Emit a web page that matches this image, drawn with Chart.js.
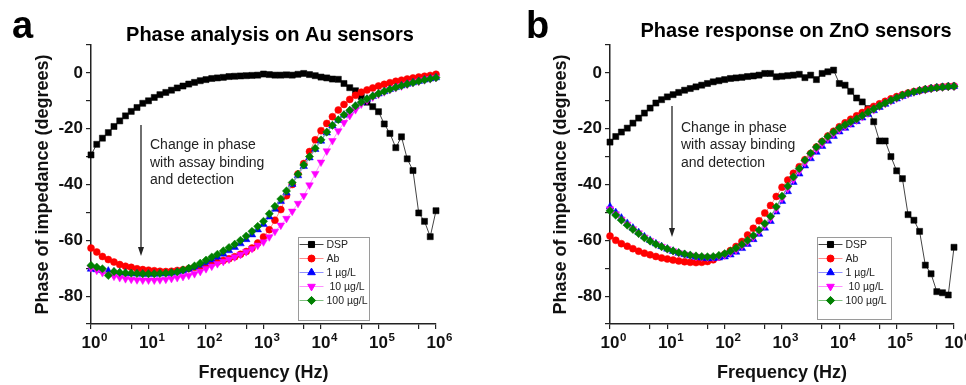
<!DOCTYPE html>
<html>
<head>
<meta charset="utf-8">
<script src="https://cdn.jsdelivr.net/npm/chart.js@4.4.1/dist/chart.umd.min.js"></script>
<style>
  body { margin: 0; background: #fff; }
  .panel { position: absolute; top: 0; width: 483px; height: 385px; }
  #panelA { left: 0; }
  #panelB { left: 483px; }
</style>
</head>
<body>
<div class="panel" id="panelA"><canvas id="chartA" width="483" height="385"></canvas></div>
<div class="panel" id="panelB"><canvas id="chartB" width="483" height="385"></canvas></div>
<script>
// === DATA ===
const FREQ = [1, 1.26, 1.58, 2, 2.51, 3.16, 3.98, 5.01, 6.31, 7.94,
  10, 12.6, 15.8, 20, 25.1, 31.6, 39.8, 50.1, 63.1, 79.4,
  100, 126, 158, 200, 251, 316, 398, 501, 631, 794,
  1e3, 1.26e3, 1.58e3, 2e3, 2.51e3, 3.16e3, 3.98e3, 5.01e3, 6.31e3, 7.94e3,
  1e4, 1.26e4, 1.58e4, 2e4, 2.51e4, 3.16e4, 3.98e4, 5.01e4, 6.31e4, 7.94e4,
  1e5, 1.26e5, 1.58e5, 2e5, 2.51e5, 3.16e5, 3.98e5, 5.01e5, 6.31e5, 7.94e5,
  1e6];

const SERIES = ['DSP', 'Ab', '1 µg/L', ' 10 µg/L', '100 µg/L'];

// Au sensors (panel a)
const AU_DSP = [-29.4, -25.6, -23.4, -21.4, -19.2, -17.2, -15.4, -13.8, -12.4, -10.9,
  -10.0, -8.8, -7.8, -7.0, -6.2, -5.4, -4.7, -4.0, -3.4, -2.8,
  -2.4, -2.0, -1.8, -1.6, -1.3, -1.2, -1.1, -1.0, -0.9, -0.8,
  -0.4, -0.6, -0.8, -0.8, -0.7, -0.8, -0.5, -0.2, -0.6, -1.0,
  -1.5, -1.8, -2.2, -2.3, -3.8, -5.3, -6.4, -8.5, -10.5, -12.1,
  -13.9, -18.3, -21.7, -26.8, -22.9, -30.8, -35.0, -50.2, -53.2, -58.7,
  -49.4];
const AU_AB = [-62.8, -64.2, -65.8, -66.9, -67.8, -68.7, -69.3, -69.7, -70.2, -70.5,
  -70.7, -70.9, -71.1, -71.2, -71.1, -70.8, -70.6, -70.2, -69.7, -69.3,
  -68.8, -68.3, -67.8, -67.2, -66.6, -65.9, -65.0, -64.0, -62.8, -61.0,
  -58.8, -56.2, -52.8, -49.0, -44.0, -40.0, -36.2, -32.5, -28.2, -24.0,
  -20.7, -18.1, -15.7, -13.3, -11.3, -9.5, -8.0, -6.9, -6.1, -5.4,
  -4.7, -4.1, -3.5, -3.0, -2.6, -2.2, -1.8, -1.5, -1.2, -0.9,
  -0.5];
const AU_1 = [-70.3, -70.5, -70.8, -71.0, -71.3, -71.5, -71.7, -71.9, -72.0, -72.1,
  -72.1, -72.1, -72.0, -71.9, -71.7, -71.4, -71.0, -70.4, -69.7, -68.9,
  -68.0, -67.0, -66.0, -64.9, -63.7, -62.5, -61.2, -59.7, -58.0, -56.2,
  -54.3, -51.6, -48.8, -46.0, -43.0, -39.9, -36.8, -33.5, -30.4, -27.4,
  -24.4, -21.5, -19.0, -17.0, -15.1, -13.5, -11.9, -10.6, -9.4, -8.4,
  -7.5, -6.7, -5.9, -5.2, -4.6, -4.0, -3.5, -3.0, -2.5, -2.1,
  -1.7];
const AU_10 = [-69.9, -70.8, -71.6, -72.3, -72.9, -73.4, -73.8, -74.0, -74.2, -74.3,
  -74.3, -74.3, -74.2, -74.0, -73.7, -73.4, -73.0, -72.6, -72.0, -71.2,
  -70.2, -69.3, -68.4, -67.6, -66.8, -66.0, -65.1, -64.1, -63.0, -61.8,
  -60.6, -58.8, -56.8, -54.6, -52.2, -49.6, -46.8, -44.0, -40.2, -36.1,
  -32.0, -28.0, -24.3, -20.8, -17.8, -15.3, -13.2, -11.2, -9.8, -8.7,
  -7.7, -6.8, -6.0, -5.3, -4.7, -4.1, -3.5, -3.0, -2.5, -2.1,
  -1.7];
const AU_100 = [-69.0, -69.6, -70.2, -72.6, -71.2, -71.5, -71.7, -71.8, -71.9, -72.0,
  -72.0, -72.0, -71.9, -71.8, -71.6, -71.3, -70.6, -70.0, -69.2, -68.2,
  -67.1, -66.0, -65.0, -63.8, -62.6, -61.4, -60.0, -58.5, -56.8, -55.0,
  -53.2, -50.5, -47.8, -45.2, -42.3, -39.3, -36.3, -33.0, -30.0, -27.0,
  -24.0, -21.2, -18.8, -16.8, -15.0, -13.4, -11.8, -10.5, -9.3, -8.3,
  -7.4, -6.6, -5.9, -5.2, -4.6, -4.0, -3.5, -3.0, -2.5, -2.1,
  -1.7];

// ZnO sensors (panel b)
const ZNO_DSP = [-24.8, -22.8, -21.2, -19.8, -18.0, -16.2, -14.4, -12.6, -10.8, -9.6,
  -8.6, -7.8, -7.0, -6.2, -5.6, -5.0, -4.4, -3.8, -3.2, -2.8,
  -2.4, -2.0, -1.8, -1.6, -1.3, -1.1, -0.8, -0.2, -0.2, -1.4,
  -1.2, -1.0, -0.8, -0.5, -1.7, -0.8, -2.4, -0.2, 0.4, 1.0,
  -3.8, -4.4, -6.6, -9.0, -10.4, -12.8, -17.5, -24.4, -24.4, -30.0,
  -35.1, -37.9, -50.8, -52.8, -56.8, -68.9, -72.0, -78.4, -78.8, -79.6,
  -62.5];
const ZNO_AB = [-58.5, -60.0, -61.2, -62.1, -63.0, -63.9, -64.6, -65.2, -65.8, -66.3,
  -66.7, -67.1, -67.4, -67.7, -67.9, -68.0, -67.9, -67.6, -67.0, -66.0,
  -65.0, -63.7, -62.2, -60.4, -58.1, -55.7, -53.0, -50.2, -47.5, -44.3,
  -41.0, -38.4, -36.0, -33.6, -31.1, -28.9, -26.6, -24.6, -22.6, -20.9,
  -19.3, -17.9, -16.6, -15.4, -14.2, -13.1, -12.0, -11.1, -10.2, -9.3,
  -8.5, -7.8, -7.2, -6.7, -6.3, -5.9, -5.5, -5.2, -5.0, -4.8,
  -4.7];
const ZNO_1 = [-48.0, -50.0, -52.0, -53.9, -55.6, -57.2, -58.7, -60.0, -61.2, -62.2,
  -63.1, -63.9, -64.6, -65.1, -65.6, -66.0, -66.3, -66.5, -66.5, -66.3,
  -65.9, -65.2, -64.2, -62.9, -61.4, -59.7, -57.8, -55.6, -53.2, -49.8,
  -46.0, -42.5, -39.2, -36.2, -33.3, -30.7, -28.4, -26.3, -24.4, -22.7,
  -21.1, -19.8, -18.6, -17.4, -16.1, -14.8, -13.5, -12.3, -11.2, -10.2,
  -9.3, -8.4, -7.6, -7.0, -6.4, -6.0, -5.6, -5.3, -5.1, -4.9,
  -4.8];
const ZNO_10 = [-48.8, -50.6, -52.5, -54.3, -55.9, -57.4, -58.9, -60.1, -61.3, -62.2,
  -63.1, -63.8, -64.5, -65.0, -65.4, -65.8, -66.0, -66.1, -66.1, -65.8,
  -65.3, -64.5, -63.5, -62.0, -60.6, -58.9, -56.9, -54.7, -52.2, -48.8,
  -45.0, -41.5, -38.2, -35.2, -32.2, -29.7, -27.4, -25.4, -23.5, -21.9,
  -20.4, -19.2, -18.0, -16.9, -15.7, -14.4, -13.2, -12.0, -11.0, -10.0,
  -9.1, -8.2, -7.5, -6.9, -6.4, -6.0, -5.6, -5.3, -5.1, -4.9,
  -4.8];
const ZNO_100 = [-49.4, -51.0, -52.8, -54.6, -56.1, -57.6, -59.1, -60.3, -61.4, -62.3,
  -63.1, -63.8, -64.4, -64.9, -65.3, -65.6, -65.8, -65.9, -65.8, -65.4,
  -64.8, -63.9, -62.8, -61.5, -60.0, -58.3, -56.3, -54.0, -51.4, -48.0,
  -44.2, -40.6, -37.3, -34.3, -31.3, -28.8, -26.6, -24.6, -22.8, -21.2,
  -19.7, -18.6, -17.5, -16.5, -15.3, -14.1, -12.9, -11.8, -10.8, -9.8,
  -8.9, -8.0, -7.3, -6.8, -6.3, -5.9, -5.6, -5.3, -5.1, -4.9,
  -4.8];

// axis ticks
const X_TICKS = [1, 5, 10, 50, 100, 500, 1e3, 5e3, 1e4, 5e4, 1e5, 5e5, 1e6];
const X_LABEL_EXP = [0, 1, 2, 3, 4, 5, 6];
const Y_TICKS = [10, 0, -10, -20, -30, -40, -50, -60, -70, -80, -90];
const Y_LABELED = [0, -20, -40, -60, -80];

// === STYLE ===
const FONT = '"Liberation Sans", Arial, Helvetica, sans-serif';
Chart.defaults.font.family = FONT;
Chart.defaults.color = '#111';

const STYLES = [
  { color: '#000000', line: '#444444', pointStyle: 'rect', radius: 4.3, rotation: 0, order: 4 },
  { color: '#ff0000', line: '#ff8c8c', pointStyle: 'circle', radius: 3.5, rotation: 0, order: 3 },
  { color: '#0000ff', line: '#9090ff', pointStyle: 'triangle', radius: 4.4, rotation: 0, order: 2 },
  { color: '#ff00ff', line: '#ff90ff', pointStyle: 'triangle', radius: 4.4, rotation: 180, order: 1 },
  { color: '#008000', line: '#80c080', pointStyle: 'rectRot', radius: 4.1, rotation: 0, order: 0 }
];

function makeDatasets(seriesList) {
  return seriesList.map((vals, k) => {
    const s = STYLES[k];
    return {
      label: SERIES[k],
      data: FREQ.map((f, i) => ({ x: f, y: vals[i] })),
      borderColor: s.line,
      borderWidth: 1,
      backgroundColor: s.color,
      pointBackgroundColor: s.color,
      pointBorderColor: s.color,
      pointBorderWidth: 0.5,
      pointStyle: s.pointStyle,
      pointRotation: s.rotation,
      pointRadius: s.radius,
      order: s.order,
      clip: false,
      tension: 0
    };
  });
}

// letters, titles, 10^n tick labels, annotation and the framed legend
const overlay = {
  id: 'overlay',
  afterDraw(chart, args, o) {
    const ctx = chart.ctx;
    ctx.save();
    ctx.fillStyle = '#000';
    ctx.textAlign = 'left';
    ctx.textBaseline = 'alphabetic';
    ctx.font = 'bold 38px ' + FONT;
    ctx.fillText(o.letter, o.letterX, 38);

    ctx.textAlign = 'center';
    ctx.font = 'bold 20px ' + FONT;
    ctx.fillText(o.title, o.titleX, o.titleY);

    // decade labels with real superscripts
    const xs = chart.scales.x;
    ctx.fillStyle = '#111';
    X_LABEL_EXP.forEach(e => {
      const px = xs.getPixelForValue(Math.pow(10, e));
      ctx.font = 'bold 17px ' + FONT;
      ctx.textAlign = 'center';
      ctx.fillText('10', px, 348);
      const w = ctx.measureText('10').width;
      ctx.font = 'bold 11.5px ' + FONT;
      ctx.textAlign = 'left';
      ctx.fillText(String(e), px + w / 2 + 0.5, 341);
    });

    // arrow
    ctx.strokeStyle = '#222';
    ctx.fillStyle = '#222';
    ctx.lineWidth = 1.3;
    ctx.beginPath();
    ctx.moveTo(o.arrowX, o.arrowTop);
    ctx.lineTo(o.arrowX, o.arrowTip - 6);
    ctx.stroke();
    ctx.beginPath();
    ctx.moveTo(o.arrowX, o.arrowTip);
    ctx.lineTo(o.arrowX - 3, o.arrowTip - 9);
    ctx.lineTo(o.arrowX + 3, o.arrowTip - 9);
    ctx.closePath();
    ctx.fill();

    ctx.textAlign = 'left';
    ctx.font = '14px ' + FONT;
    ['Change in phase', 'with assay binding', 'and detection'].forEach((t, i) => {
      ctx.fillText(t, o.noteX, o.noteY + i * 17.5);
    });

    // legend
    const L = o.legend;
    ctx.strokeStyle = '#9a9a9a';
    ctx.lineWidth = 1;
    ctx.strokeRect(L.x + 0.5, L.y + 0.5, L.w, L.h);
    ctx.font = '10.5px ' + FONT;
    ctx.textBaseline = 'middle';
    chart.data.datasets.forEach((ds, k) => {
      const s = STYLES[k];
      const y = L.y + 7.5 + k * 14;
      ctx.strokeStyle = s.line;
      ctx.lineWidth = 1;
      ctx.beginPath();
      ctx.moveTo(L.x + 1.5, y);
      ctx.lineTo(L.x + 25.5, y);
      ctx.stroke();
      ctx.fillStyle = s.color;
      ctx.strokeStyle = s.color;
      Chart.helpers.drawPoint(ctx, { pointStyle: s.pointStyle, rotation: s.rotation, radius: s.radius, borderWidth: 0.5 }, L.x + 13.5, y);
      ctx.fillStyle = '#222';
      ctx.fillText(ds.label, L.x + 28.5, y + 0.5);
    });
    ctx.restore();
  }
};

function makeOptions(p) {
  const axisGrid = { drawOnChartArea: false, drawTicks: true, tickLength: 5, color: '#222', lineWidth: 1.2 };
  const axisBorder = { display: true, color: '#222', width: 1.5 };
  return {
    responsive: false,
    animation: false,
    devicePixelRatio: 1,
    layout: { padding: { left: 0, right: p.padRight, top: 45, bottom: 0 } },
    plugins: {
      legend: { display: false },
      tooltip: { enabled: false },
      overlay: p.overlay
    },
    scales: {
      x: {
        type: 'logarithmic',
        min: 1,
        max: 1e6,
        afterBuildTicks: s => { s.ticks = X_TICKS.map(v => ({ value: v })); },
        afterFit: s => { s.height = 61; },
        ticks: {
          autoSkip: false,
          maxRotation: 0,
          padding: 4,
          font: { size: 17, weight: 'bold' },
          callback: () => ''
        },
        grid: axisGrid,
        border: axisBorder,
        title: { display: true, text: 'Frequency (Hz)', color: '#111', font: { size: 18, weight: 'bold' }, padding: { top: 0, bottom: 1 } }
      },
      y: {
        min: -90,
        max: 10,
        afterBuildTicks: s => { s.ticks = Y_TICKS.map(v => ({ value: v })); },
        afterFit: s => { s.width = p.yWidth; },
        ticks: {
          padding: 3,
          color: '#111',
          font: { size: 17, weight: 'bold' },
          callback: v => Y_LABELED.includes(v) ? String(v) : ''
        },
        grid: axisGrid,
        border: axisBorder,
        title: { display: true, text: 'Phase of impedance (degrees)', color: '#111', font: { size: 18, weight: 'bold' }, padding: { top: p.yTitlePad, bottom: 0 } }
      }
    }
  };
}

// === PANEL A: Au ===
new Chart(document.getElementById('chartA'), {
  type: 'line',
  data: { datasets: makeDatasets([AU_DSP, AU_AB, AU_1, AU_10, AU_100]) },
  options: makeOptions({
    padRight: 47, yWidth: 91, yTitlePad: 32.7,
    overlay: {
      letter: 'a', letterX: 12, title: 'Phase analysis on Au sensors', titleX: 270, titleY: 41,
      arrowX: 141, arrowTop: 125, arrowTip: 256, noteX: 150, noteY: 149,
      legend: { x: 298, y: 237, w: 71, h: 83 }
    }
  }),
  plugins: [overlay]
});

// === PANEL B: ZnO ===
new Chart(document.getElementById('chartB'), {
  type: 'line',
  data: { datasets: makeDatasets([ZNO_DSP, ZNO_AB, ZNO_1, ZNO_10, ZNO_100]) },
  options: makeOptions({
    padRight: 12, yWidth: 127, yTitlePad: 67.7,
    overlay: {
      letter: 'b', letterX: 43, title: 'Phase response on ZnO sensors', titleX: 313, titleY: 36.5,
      arrowX: 189, arrowTop: 106, arrowTip: 237, noteX: 198, noteY: 131.5,
      legend: { x: 334, y: 237, w: 74, h: 82 }
    }
  }),
  plugins: [overlay]
});
</script>
</body>
</html>
